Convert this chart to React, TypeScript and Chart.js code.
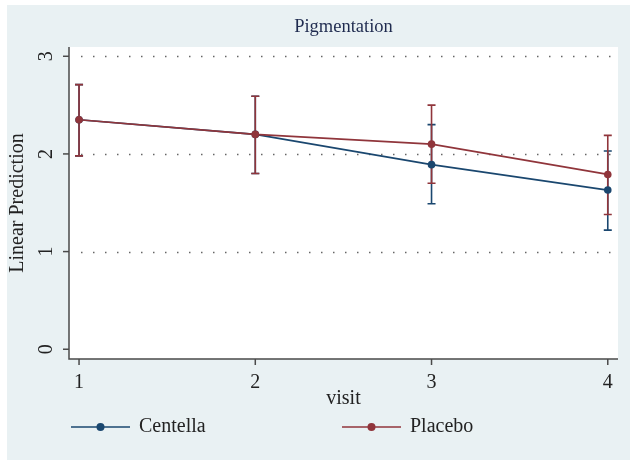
import React, { useEffect, useRef } from "react";
import { Chart, registerables } from "chart.js";

Chart.register(...registerables);

const visits = [1, 2, 3, 4];
const centella = [2.35, 2.2, 1.89, 1.63];
const centellaLo = [1.98, 1.8, 1.49, 1.22];
const centellaHi = [2.71, 2.59, 2.3, 2.03];
const placebo = [2.35, 2.2, 2.1, 1.79];
const placeboLo = [1.98, 1.8, 1.7, 1.38];
const placeboHi = [2.71, 2.59, 2.5, 2.19];
const yTicks = [0, 1, 2, 3];
const xTicks = [1, 2, 3, 4];
const gridTicks = [1, 2, 3];
const seriesNames = ["Centella", "Placebo"];
const titleText = "Pigmentation";
const yTitle = "Linear Prediction";
const xTitle = "visit";

const BLUE = "#1a476f";
const RED = "#90353b";
const FONT = "'Liberation Serif', 'DejaVu Serif', serif";
const TEXT = "#222222";
const AXIS = "#4a4a4a";

const decorPlugin = {
  id: "stataDecor",
  beforeDraw(chart: any) {
    const { ctx, chartArea } = chart;
    ctx.save();
    ctx.fillStyle = "#ffffff";
    ctx.fillRect(0, 0, chart.width, chart.height);
    ctx.fillStyle = "#e9f1f3";
    ctx.fillRect(7, 5, chart.width - 7, chart.height - 5);
    ctx.fillStyle = "#ffffff";
    ctx.fillRect(chartArea.left, chartArea.top, chartArea.right - chartArea.left, chartArea.bottom - chartArea.top);

    const xs = chart.scales.x;
    const ys = chart.scales.y;
    // dotted grid
    ctx.strokeStyle = "#666666";
    ctx.lineWidth = 1.5;
    ctx.setLineDash([1.5, 10.5]);
    gridTicks.forEach((v) => {
      const y = Math.round(ys.getPixelForValue(v)) + 0.5;
      ctx.beginPath();
      ctx.moveTo(chartArea.left + 12, y);
      ctx.lineTo(chartArea.right, y);
      ctx.stroke();
    });
    ctx.setLineDash([]);
    ctx.restore();
  },
  beforeDatasetsDraw(chart: any) {
    const { ctx } = chart;
    const xs = chart.scales.x;
    const ys = chart.scales.y;
    const drawCI = (lo: number[], hi: number[], color: string) => {
      ctx.strokeStyle = color;
      ctx.lineWidth = 1.6;
      visits.forEach((v, i) => {
        const x = xs.getPixelForValue(v);
        const y1 = ys.getPixelForValue(lo[i]);
        const y2 = ys.getPixelForValue(hi[i]);
        ctx.beginPath();
        ctx.moveTo(x, y1);
        ctx.lineTo(x, y2);
        ctx.moveTo(x - 4, y1);
        ctx.lineTo(x + 4, y1);
        ctx.moveTo(x - 4, y2);
        ctx.lineTo(x + 4, y2);
        ctx.stroke();
      });
    };
    ctx.save();
    drawCI(centellaLo, centellaHi, BLUE);
    drawCI(placeboLo, placeboHi, RED);
    ctx.restore();
  },
  afterDraw(chart: any) {
    const { ctx, chartArea } = chart;
    const xs = chart.scales.x;
    const ys = chart.scales.y;
    ctx.save();
    // axes
    ctx.strokeStyle = AXIS;
    ctx.lineWidth = 1.5;
    ctx.beginPath();
    ctx.moveTo(chartArea.left, chartArea.top);
    ctx.lineTo(chartArea.left, chartArea.bottom);
    ctx.lineTo(chartArea.right, chartArea.bottom);
    ctx.stroke();
    // y ticks
    ctx.fillStyle = TEXT;
    ctx.font = `20px ${FONT}`;
    ctx.textAlign = "center";
    ctx.textBaseline = "middle";
    yTicks.forEach((v) => {
      const y = ys.getPixelForValue(v);
      ctx.beginPath();
      ctx.moveTo(chartArea.left - 6, y);
      ctx.lineTo(chartArea.left, y);
      ctx.stroke();
      ctx.save();
      ctx.translate(chartArea.left - 22, y);
      ctx.rotate(-Math.PI / 2);
      ctx.fillText(String(v), 0, 0);
      ctx.restore();
    });
    // x ticks
    xTicks.forEach((v) => {
      const x = xs.getPixelForValue(v);
      ctx.beginPath();
      ctx.moveTo(x, chartArea.bottom);
      ctx.lineTo(x, chartArea.bottom + 6);
      ctx.stroke();
      ctx.fillText(String(v), x, chartArea.bottom + 24);
    });
    // axis titles
    ctx.fillText(xTitle, (chartArea.left + chartArea.right) / 2, chartArea.bottom + 40);
    ctx.save();
    ctx.translate(18, (chartArea.top + chartArea.bottom) / 2);
    ctx.rotate(-Math.PI / 2);
    ctx.fillText(yTitle, 0, 0);
    ctx.restore();
    // title
    ctx.fillStyle = "#1f2b4f";
    ctx.font = `18.5px ${FONT}`;
    ctx.fillText(titleText, (chartArea.left + chartArea.right) / 2, 27);
    // legend
    const legendY = 427;
    const items = [
      { name: seriesNames[0], color: BLUE, x0: 71 },
      { name: seriesNames[1], color: RED, x0: 342 },
    ];
    ctx.font = `20px ${FONT}`;
    ctx.textAlign = "left";
    items.forEach((it) => {
      ctx.strokeStyle = it.color;
      ctx.lineWidth = 1.6;
      ctx.beginPath();
      ctx.moveTo(it.x0, legendY);
      ctx.lineTo(it.x0 + 59, legendY);
      ctx.stroke();
      ctx.fillStyle = it.color;
      ctx.beginPath();
      ctx.arc(it.x0 + 29.5, legendY, 4, 0, Math.PI * 2);
      ctx.fill();
      ctx.fillStyle = TEXT;
      ctx.fillText(it.name, it.x0 + 68, legendY);
    });
    ctx.restore();
  },
};

export default function App() {
  const ref = useRef<HTMLCanvasElement>(null);
  useEffect(() => {
    if (!ref.current) return;
    const mk = (ys: number[]) => visits.map((v, i) => ({ x: v, y: ys[i] }));
    const chart = new Chart(ref.current, {
      type: "line",
      data: {
        datasets: [
          {
            label: seriesNames[1],
            data: mk(placebo),
            borderColor: RED,
            backgroundColor: RED,
            borderWidth: 1.7,
            pointRadius: 3.8,
            pointBorderWidth: 0,
            pointBackgroundColor: RED,
            order: 0,
          },
          {
            label: seriesNames[0],
            data: mk(centella),
            borderColor: BLUE,
            backgroundColor: BLUE,
            borderWidth: 1.7,
            pointRadius: 3.8,
            pointBorderWidth: 0,
            pointBackgroundColor: BLUE,
            order: 1,
          },
        ],
      },
      options: {
        responsive: false,
        animation: false,
        layout: { padding: { left: 69, top: 47, right: 12, bottom: 101 } },
        plugins: { legend: { display: false }, title: { display: false }, tooltip: { enabled: false } },
        scales: {
          x: { type: "linear", min: 0.943, max: 4.058, display: false },
          y: { type: "linear", min: -0.1, max: 3.095, display: false },
        },
      },
      plugins: [decorPlugin],
    });
    return () => chart.destroy();
  }, []);
  return (
    <div style={{ position: "absolute", left: 0, top: 0, width: 630, height: 460 }}>
      <canvas ref={ref} width={630} height={460} style={{ display: "block" }} />
    </div>
  );
}
